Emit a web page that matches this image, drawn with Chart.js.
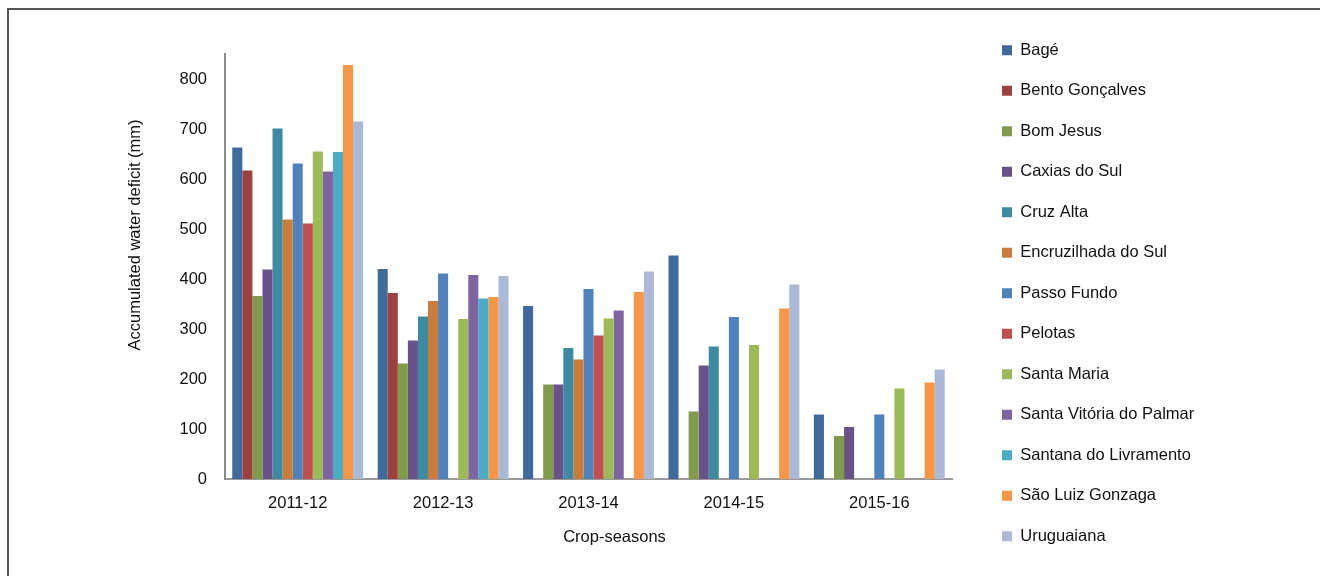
<!DOCTYPE html>
<html>
<head>
<meta charset="utf-8">
<script src="https://cdn.jsdelivr.net/npm/chart.js@4/dist/chart.umd.min.js"></script>
<style>
  html, body { margin: 0; padding: 0; background: #ffffff; overflow: hidden; }
  #wrap { position: relative; width: 1320px; height: 576px; }
  #frame { position: absolute; left: 7px; top: 8px; width: 1400px; height: 700px;
           border-top: 2px solid #555555; border-left: 2px solid #555555; box-sizing: border-box; }
  #chart { position: absolute; left: 0; top: 0; }
</style>
</head>
<body>
<div id="wrap">
  <div id="frame"></div>
  <canvas id="chart" width="1320" height="576"></canvas>
</div>
<script>
// Crop seasons on the category axis
const seasons = ['2011-12', '2012-13', '2013-14', '2014-15', '2015-16'];

// Accumulated water deficit (mm) per site and season; null = no bar
const bage              = [663, 420, 346, 447, 129];
const bentoGoncalves    = [617, 372, null, null, null];
const bomJesus          = [366, 231, 189, 135, 86];
const caxiasDoSul       = [419, 277, 189, 227, 104];
const cruzAlta          = [701, 325, 262, 265, null];
const encruzilhadaDoSul = [519, 356, 239, null, null];
const passoFundo        = [631, 411, 380, 324, 129];
const pelotas           = [511, null, 287, null, null];
const santaMaria        = [655, 320, 321, 268, 181];
const santaVitoria      = [615, 408, 337, null, null];
const santanaLivramento = [654, 361, null, null, null];
const saoLuizGonzaga    = [828, 364, 374, 341, 193];
const uruguaiana        = [715, 406, 415, 389, 219];

// Value axis tick labels
const yTicks = [0, 100, 200, 300, 400, 500, 600, 700, 800];

const siteNames = ['Bagé', 'Bento Gonçalves', 'Bom Jesus', 'Caxias do Sul', 'Cruz Alta',
  'Encruzilhada do Sul', 'Passo Fundo', 'Pelotas', 'Santa Maria', 'Santa Vitória do Palmar',
  'Santana do Livramento', 'São Luiz Gonzaga', 'Uruguaiana'];
const siteValues = [bage, bentoGoncalves, bomJesus, caxiasDoSul, cruzAlta, encruzilhadaDoSul,
  passoFundo, pelotas, santaMaria, santaVitoria, santanaLivramento, saoLuizGonzaga, uruguaiana];
const siteColors = ['#416A9C', '#9E413E', '#809B4A', '#69528A', '#3D8BA3', '#CC7B39',
  '#4F81BD', '#C0504D', '#9BBB59', '#8064A2', '#4BACC6', '#F79646', '#AAB9D7'];

const FONT = "'Liberation Sans', Arial, sans-serif";
const TEXT = '#111111';

const datasets = siteNames.map((name, i) => ({
  label: name,
  data: siteValues[i],
  backgroundColor: siteColors[i],
  borderWidth: 0,
  categoryPercentage: 0.9,
  barPercentage: 1.0
}));

// Axis titles placed relative to the plot area
const axisTitles = {
  id: 'axisTitles',
  afterDraw(chart) {
    const { ctx, chartArea: a } = chart;
    ctx.save();
    ctx.font = '16.5px ' + FONT;
    ctx.fillStyle = TEXT;
    ctx.textAlign = 'center';
    ctx.textBaseline = 'middle';
    ctx.fillText('Crop-seasons', (a.left + a.right) / 2 + 26, a.bottom + 58);
    ctx.translate(a.left - 90, a.top + 181);
    ctx.rotate(-Math.PI / 2);
    ctx.fillText('Accumulated water deficit (mm)', 0, 0);
    ctx.restore();
  }
};

new Chart(document.getElementById('chart'), {
  type: 'bar',
  data: { labels: seasons, datasets },
  plugins: [axisTitles],
  options: {
    responsive: false,
    animation: false,
    devicePixelRatio: 1,
    layout: { padding: { top: 18, right: 122, bottom: 0, left: 0 } },
    plugins: {
      tooltip: { enabled: false },
      legend: {
        position: 'right',
        align: 'start',
        maxWidth: 220,
        labels: {
          boxWidth: 10,
          boxHeight: 10,
          padding: 24,
          color: TEXT,
          font: { family: FONT, size: 16.5 }
        }
      }
    },
    scales: {
      x: {
        grid: { display: false, drawTicks: false },
        border: { display: true, color: '#999999', width: 2 },
        ticks: { color: TEXT, padding: 15, font: { family: FONT, size: 16.5 } },
        afterFit(s) { s.height = 97; }
      },
      y: {
        min: 0,
        max: 850,
        grid: { display: false, drawTicks: false },
        border: { display: true, color: '#8c8c8c', width: 2 },
        ticks: { color: TEXT, padding: 18, stepSize: 100, font: { family: FONT, size: 16.5 } },
        afterBuildTicks(s) { s.ticks = yTicks.map(v => ({ value: v })); },
        afterFit(s) { s.width = 225; }
      },
      topSpace: {
        type: 'linear', position: 'top', display: true, min: 0, max: 1,
        grid: { display: false, drawTicks: false }, border: { display: false },
        ticks: { display: false },
        afterFit(s) { s.height = 36; }
      },
      rightSpace: {
        type: 'linear', position: 'right', display: true, min: 0, max: 1,
        grid: { display: false, drawTicks: false }, border: { display: false },
        ticks: { display: false },
        afterFit(s) { s.width = 26; }
      }
    }
  }
});
</script>
</body>
</html>
